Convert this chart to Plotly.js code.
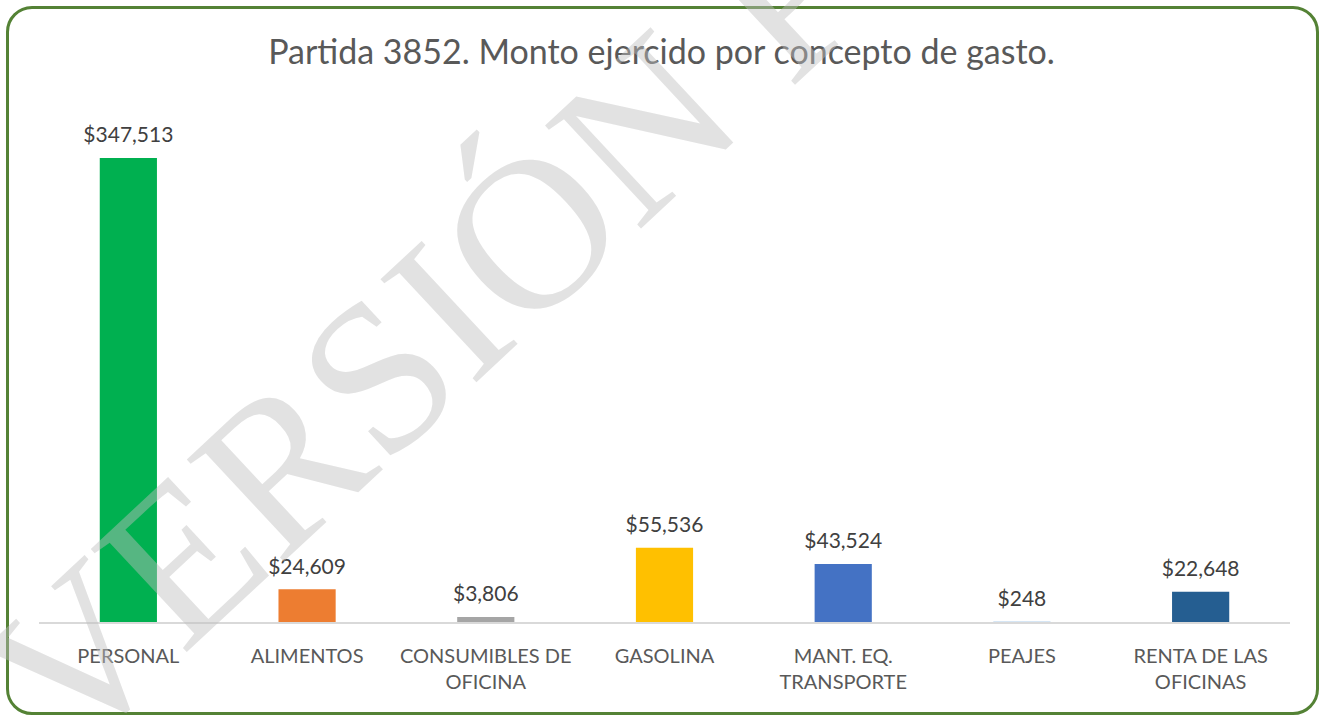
<!DOCTYPE html>
<html>
<head>
<meta charset="utf-8">
<script src="https://cdn.plot.ly/plotly-3.0.1.min.js"></script>
<style>
  html, body { margin: 0; padding: 0; background: #ffffff; }
  #frame { position: absolute; left: 6px; top: 6px; width: 1307px; height: 703px;
           border: 3.5px solid #548235; border-radius: 26px; background: #ffffff; }
  #chart { position: absolute; left: 0; top: 0; width: 1323px; height: 721px; }
</style>
</head>
<body>
<div id="frame"></div>
<div id="chart"></div>
<script>
const categories = ["PERSONAL", "ALIMENTOS", "CONSUMIBLES DE<br>OFICINA", "GASOLINA",
                    "MANT. EQ.<br>TRANSPORTE", "PEAJES", "RENTA DE LAS<br>OFICINAS"];
const montos = [347513, 24609, 3806, 55536, 43524, 248, 22648];
const colores = ["#00B050", "#ED7D31", "#A5A5A5", "#FFC000", "#4472C4", "#5B9BD5", "#255E91"];
const titulo = "Partida 3852. Monto ejercido por concepto de gasto.";
const marcaAgua = "VERSIÓN PÚBLICA";

const FONT = "Lato, 'Open Sans', sans-serif";

const barras = {
  type: "bar",
  x: categories,
  y: montos,
  marker: { color: colores },
  hoverinfo: "none"
};

const etiquetas = {
  type: "scatter",
  mode: "markers+text",
  x: categories,
  y: montos,
  text: montos.map(v => "$" + v.toLocaleString("en-US")),
  textposition: "top center",
  marker: { size: 15, opacity: 0 },
  cliponaxis: false,
  textfont: { family: FONT, size: 21, color: "#404040" },
  hoverinfo: "none"
};

const layout = {
  width: 1323, height: 721,
  paper_bgcolor: "rgba(0,0,0,0)",
  plot_bgcolor: "rgba(0,0,0,0)",
  margin: { l: 39, r: 33, t: 110, b: 99 },
  bargap: 0.68,
  showlegend: false,
  title: {
    text: titulo,
    x: 0.5, xref: "container", xanchor: "center",
    y: 1 - 52 / 721, yref: "container", yanchor: "middle",
    font: { family: FONT, size: 34, color: "#595959" }
  },
  xaxis: {
    showline: true, linecolor: "#D9D9D9", linewidth: 1.5,
    showgrid: false, zeroline: false, ticks: "",
    ticklabelstandoff: 15,
    tickfont: { family: FONT, size: 20, color: "#595959" },
    fixedrange: true
  },
  yaxis: {
    range: [0, 383500],
    visible: false, showgrid: false, zeroline: false, fixedrange: true
  },
  annotations: [{
    text: marcaAgua,
    xref: "paper", yref: "paper",
    x: 0.541, y: 1.0996, xanchor: "center", yanchor: "middle",
    showarrow: false, textangle: -43,
    font: { family: "'Liberation Serif', 'DejaVu Serif', serif", size: 215, color: "rgba(190,190,190,0.45)" }
  }]
};

Plotly.newPlot("chart", [barras, etiquetas], layout, { displayModeBar: false, staticPlot: true });
</script>
</body>
</html>
